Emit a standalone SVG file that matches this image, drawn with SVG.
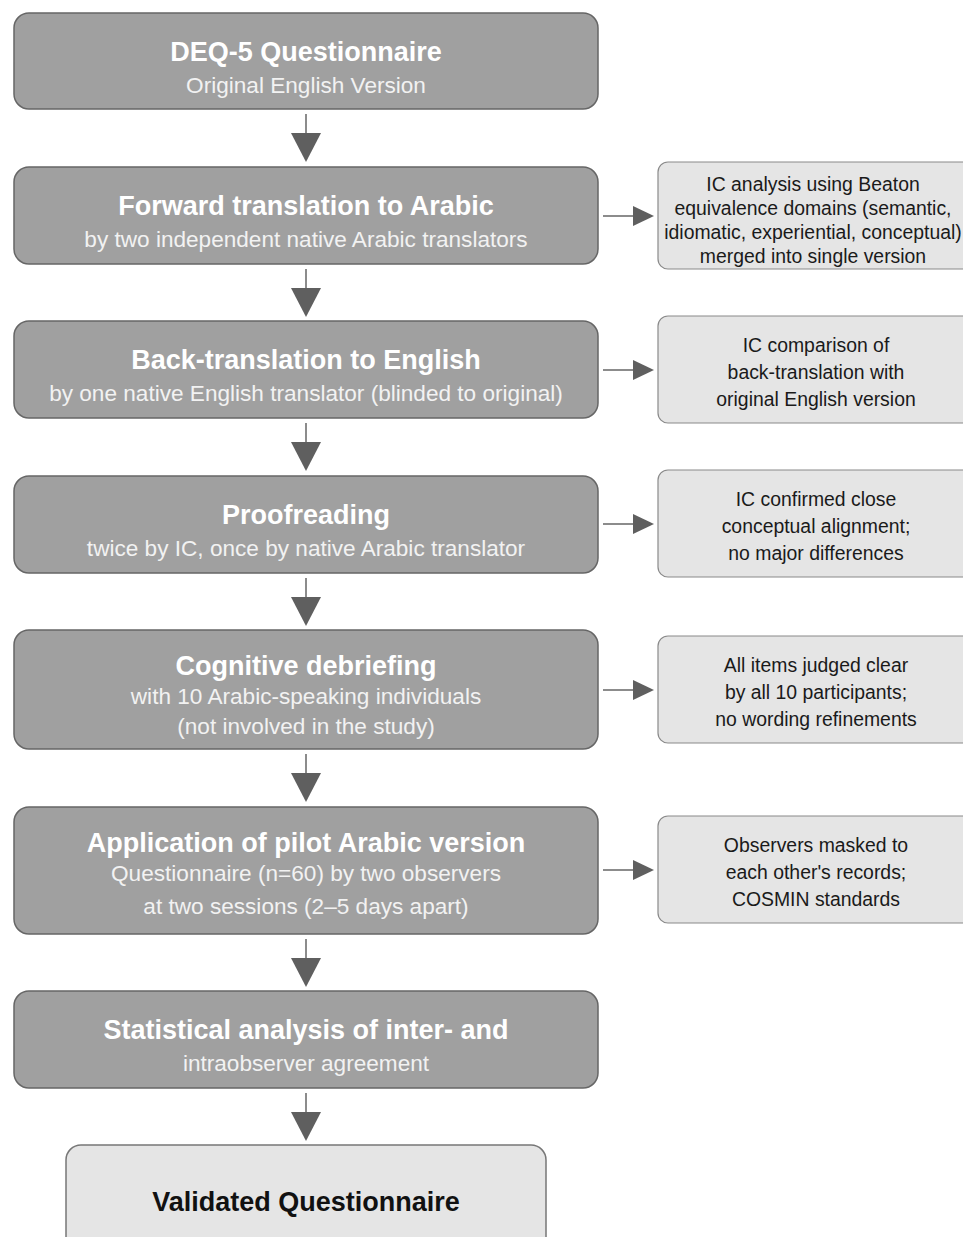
<svg xmlns="http://www.w3.org/2000/svg" width="963" height="1237" viewBox="0 0 963 1237">
<defs>
<style>
.main{fill:#a0a0a0;stroke:#666;stroke-width:1.5}
.side{fill:#e5e5e5;stroke:#8a8a8a;stroke-width:1.2}
.fin{fill:#e5e5e5;stroke:#777;stroke-width:1.5}
.t{font-family:"Liberation Sans",Arial,sans-serif;font-weight:bold;font-size:27px;fill:#fff;text-anchor:middle}
.s{font-family:"Liberation Sans",Arial,sans-serif;font-size:22.6px;fill:#f2f2f2;text-anchor:middle}
.n{font-family:"Liberation Sans",Arial,sans-serif;font-size:19.4px;fill:#1a1a1a;text-anchor:middle}
.ft{font-family:"Liberation Sans",Arial,sans-serif;font-weight:bold;font-size:27px;fill:#111;text-anchor:middle}
.ln{stroke:#666;stroke-width:1.5;fill:none}
.hd{fill:#5f5f5f}
</style>
</defs>
<rect width="963" height="1237" fill="#fff"/>
<g id="connectors">
<line class="ln" x1="306" y1="114" x2="306" y2="134"/><polygon class="hd" points="291,133 321,133 306,162"/>
<line class="ln" x1="306" y1="269" x2="306" y2="289"/><polygon class="hd" points="291,288 321,288 306,317"/>
<line class="ln" x1="306" y1="423" x2="306" y2="443"/><polygon class="hd" points="291,442 321,442 306,471"/>
<line class="ln" x1="306" y1="578" x2="306" y2="598"/><polygon class="hd" points="291,597 321,597 306,626"/>
<line class="ln" x1="306" y1="754" x2="306" y2="774"/><polygon class="hd" points="291,773 321,773 306,802"/>
<line class="ln" x1="306" y1="939" x2="306" y2="959"/><polygon class="hd" points="291,958 321,958 306,987"/>
<line class="ln" x1="306" y1="1093" x2="306" y2="1113"/><polygon class="hd" points="291,1112 321,1112 306,1141"/>
<line class="ln" x1="603" y1="216" x2="634" y2="216"/><polygon class="hd" points="633,206 633,226 654,216"/>
<line class="ln" x1="603" y1="370" x2="634" y2="370"/><polygon class="hd" points="633,360 633,380 654,370"/>
<line class="ln" x1="603" y1="524" x2="634" y2="524"/><polygon class="hd" points="633,514 633,534 654,524"/>
<line class="ln" x1="603" y1="690" x2="634" y2="690"/><polygon class="hd" points="633,680 633,700 654,690"/>
<line class="ln" x1="603" y1="870" x2="634" y2="870"/><polygon class="hd" points="633,860 633,880 654,870"/>
</g>
<g id="n1"><rect class="main" x="14" y="13" width="584" height="96" rx="15"/>
<text class="t" x="306" y="61">DEQ-5 Questionnaire</text>
<text class="s" x="306" y="93">Original English Version</text></g>
<g id="n2"><rect class="main" x="14" y="167" width="584" height="97" rx="15"/>
<text class="t" x="306" y="215">Forward translation to Arabic</text>
<text class="s" x="306" y="247">by two independent native Arabic translators</text></g>
<g id="n3"><rect class="main" x="14" y="321" width="584" height="97" rx="15"/>
<text class="t" x="306" y="369">Back-translation to English</text>
<text class="s" x="306" y="401">by one native English translator (blinded to original)</text></g>
<g id="n4"><rect class="main" x="14" y="476" width="584" height="97" rx="15"/>
<text class="t" x="306" y="524">Proofreading</text>
<text class="s" x="306" y="556">twice by IC, once by native Arabic translator</text></g>
<g id="n5"><rect class="main" x="14" y="630" width="584" height="119" rx="15"/>
<text class="t" x="306" y="675">Cognitive debriefing</text>
<text class="s" x="306" y="704">with 10 Arabic-speaking individuals</text>
<text class="s" x="306" y="734">(not involved in the study)</text></g>
<g id="n6"><rect class="main" x="14" y="807" width="584" height="127" rx="15"/>
<text class="t" x="306" y="852">Application of pilot Arabic version</text>
<text class="s" x="306" y="881">Questionnaire (n=60) by two observers</text>
<text class="s" x="306" y="914">at two sessions (2–5 days apart)</text></g>
<g id="n7"><rect class="main" x="14" y="991" width="584" height="97" rx="15"/>
<text class="t" x="306" y="1039">Statistical analysis of inter- and</text>
<text class="s" x="306" y="1071">intraobserver agreement</text></g>
<g id="n8"><rect class="fin" x="66" y="1145" width="480" height="110" rx="15"/>
<text class="ft" x="306" y="1211">Validated Questionnaire</text></g>
<g id="s1"><rect class="side" x="658" y="162" width="320" height="107" rx="10"/>
<text class="n" x="813" y="191">IC analysis using Beaton</text>
<text class="n" x="813" y="215">equivalence domains (semantic,</text>
<text class="n" x="813" y="239">idiomatic, experiential, conceptual)</text>
<text class="n" x="813" y="263">merged into single version</text></g>
<g id="s2"><rect class="side" x="658" y="316" width="320" height="107" rx="10"/>
<text class="n" x="816" y="352">IC comparison of</text>
<text class="n" x="816" y="379">back-translation with</text>
<text class="n" x="816" y="406">original English version</text></g>
<g id="s3"><rect class="side" x="658" y="470" width="320" height="107" rx="10"/>
<text class="n" x="816" y="506">IC confirmed close</text>
<text class="n" x="816" y="533">conceptual alignment;</text>
<text class="n" x="816" y="560">no major differences</text></g>
<g id="s4"><rect class="side" x="658" y="636" width="320" height="107" rx="10"/>
<text class="n" x="816" y="672">All items judged clear</text>
<text class="n" x="816" y="699">by all 10 participants;</text>
<text class="n" x="816" y="726">no wording refinements</text></g>
<g id="s5"><rect class="side" x="658" y="816" width="320" height="107" rx="10"/>
<text class="n" x="816" y="852">Observers masked to</text>
<text class="n" x="816" y="879">each other's records;</text>
<text class="n" x="816" y="906">COSMIN standards</text></g>
</svg>
